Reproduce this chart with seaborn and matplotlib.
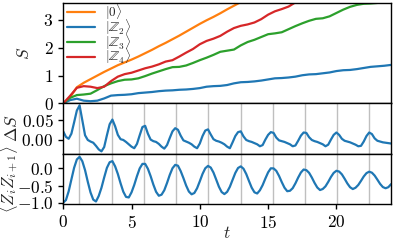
import matplotlib
matplotlib.use("Agg")
import matplotlib.pyplot as plt
import numpy as np
import pandas as pd
import seaborn as sns

# entanglement entropy S(t), sampled every 0.5
t_S = [0.0, 0.5, 1.0, 1.5, 2.0, 2.5, 3.0, 3.5, 4.0, 4.5, 5.0, 5.5, 6.0, 6.5, 7.0, 7.5,
       8.0, 8.5, 9.0, 9.5, 10.0, 10.5, 11.0, 11.5, 12.0, 12.5, 13.0, 13.5, 14.0, 14.5,
       15.0, 15.5, 16.0, 16.5, 17.0, 17.5, 18.0, 18.5, 19.0, 19.5, 20.0, 20.5, 21.0,
       21.5, 22.0, 22.5, 23.0, 23.5, 24.0]
S_0 = [0.00, 0.22, 0.58, 0.74, 0.87, 1.00, 1.13, 1.25, 1.37, 1.47, 1.57, 1.68, 1.80,
       1.92, 2.05, 2.17, 2.30, 2.43, 2.57, 2.71, 2.85, 2.98, 3.10, 3.23, 3.37, 3.50,
       3.63, 3.76]
S_Z2 = [0.00, 0.12, 0.17, 0.10, 0.08, 0.10, 0.18, 0.28, 0.30, 0.31, 0.33, 0.37, 0.39,
        0.41, 0.44, 0.46, 0.47, 0.49, 0.50, 0.52, 0.55, 0.60, 0.62, 0.63, 0.66, 0.72,
        0.76, 0.77, 0.79, 0.82, 0.86, 0.90, 0.91, 0.93, 0.96, 1.01, 1.04, 1.05, 1.08,
        1.11, 1.16, 1.19, 1.20, 1.23, 1.27, 1.31, 1.33, 1.35, 1.38]
S_Z3 = [0.00, 0.20, 0.30, 0.32, 0.35, 0.48, 0.62, 0.72, 0.80, 0.85, 0.86, 0.90, 0.98,
        1.07, 1.15, 1.23, 1.30, 1.31, 1.36, 1.45, 1.55, 1.64, 1.74, 1.85, 1.89, 1.93,
        2.08, 2.20, 2.28, 2.38, 2.48, 2.51, 2.55, 2.66, 2.77, 2.87, 2.96, 3.03, 3.05,
        3.12, 3.24, 3.36, 3.46, 3.53, 3.57, 3.58, 3.60, 3.66, 3.72]
S_Z4 = [0.00, 0.27, 0.56, 0.62, 0.60, 0.55, 0.60, 0.80, 0.96, 1.05, 1.10, 1.18, 1.26,
        1.32, 1.40, 1.50, 1.55, 1.68, 1.82, 1.95, 2.12, 2.24, 2.32, 2.42, 2.57, 2.70,
        2.78, 2.83, 2.90, 3.02, 3.18, 3.30, 3.38, 3.47, 3.62, 3.72]

# Delta S and nearest-neighbour correlator, sampled every 0.2
t_fine = [round(0.2 * i, 1) for i in range(121)]
dS = [0.022, 0.008, 0.003, 0.016, 0.045, 0.075, 0.088, 0.050, 0.012, 0.000, -0.004,
      -0.007, -0.015, -0.024, -0.029, -0.018, 0.012, 0.040, 0.052, 0.035, 0.013,
      0.002, 0.000, -0.005, -0.011, -0.017, -0.021, -0.010, 0.012, 0.033, 0.036,
      0.016, 0.001, -0.003, -0.005, -0.010, -0.017, -0.022, -0.013, 0.005, 0.022,
      0.030, 0.026, 0.011, -0.001, -0.004, -0.007, -0.011, -0.017, -0.021, -0.009,
      0.010, 0.024, 0.027, 0.014, 0.002, -0.002, -0.004, -0.007, -0.011, -0.017,
      -0.021, -0.006, 0.010, 0.020, 0.022, 0.009, 0.000, -0.003, -0.005, -0.008,
      -0.011, -0.016, -0.013, 0.001, 0.013, 0.020, 0.018, 0.006, -0.001, -0.003,
      -0.005, -0.008, -0.011, -0.016, -0.014, -0.002, 0.011, 0.019, 0.018, 0.007,
      0.000, -0.003, -0.005, -0.008, -0.011, -0.016, -0.012, 0.001, 0.013, 0.019,
      0.013, 0.003, -0.002, -0.004, -0.006, -0.009, -0.012, -0.016, -0.015, -0.004,
      0.010, 0.019, 0.015, 0.004, -0.002, -0.004, -0.006, -0.007, -0.008, -0.009]
zz = [-1.000, -0.926, -0.670, -0.322, 0.020, 0.263, 0.339, 0.210, -0.051, -0.391,
      -0.702, -0.913, -0.967, -0.806, -0.567, -0.264, 0.017, 0.181, 0.213, 0.061,
      -0.162, -0.435, -0.681, -0.833, -0.849, -0.701, -0.483, -0.226, 0.001, 0.132,
      0.133, -0.011, -0.226, -0.473, -0.684, -0.799, -0.768, -0.638, -0.426, -0.190,
      0.005, 0.104, 0.080, -0.078, -0.282, -0.501, -0.676, -0.757, -0.719, -0.581,
      -0.376, -0.161, 0.004, 0.074, 0.025, -0.120, -0.326, -0.536, -0.691, -0.750,
      -0.686, -0.537, -0.333, -0.131, 0.013, 0.060, -0.009, -0.164, -0.368, -0.564,
      -0.698, -0.733, -0.639, -0.488, -0.295, -0.115, 0.003, 0.001, -0.072, -0.219,
      -0.400, -0.564, -0.666, -0.654, -0.578, -0.436, -0.268, -0.120, -0.032, -0.050,
      -0.128, -0.265, -0.423, -0.558, -0.632, -0.602, -0.524, -0.395, -0.250, -0.131,
      -0.069, -0.092, -0.173, -0.301, -0.439, -0.550, -0.603, -0.565, -0.484, -0.364,
      -0.236, -0.138, -0.095, -0.125, -0.209, -0.329, -0.453, -0.545, -0.580, -0.549,
      -0.460]

# times of the correlator maxima (grey guide lines)
peak_times = [1.18, 3.54, 5.90, 8.26, 10.62, 12.98, 15.34, 17.70, 20.06, 22.42]

labels = [r'$|0\rangle$', r'$|\mathbb{Z}_2\rangle$', r'$|\mathbb{Z}_3\rangle$',
          r'$|\mathbb{Z}_4\rangle$']
colors = ['#ff7f0e', '#1f77b4', '#2ca02c', '#d62728']

frames = []
for lab, vals in zip(labels, [S_0, S_Z2, S_Z3, S_Z4]):
    frames.append(pd.DataFrame({'t': t_S[:len(vals)], 'S': vals, 'state': lab}))
df_S = pd.concat(frames)
df_fine = pd.DataFrame({'t': t_fine, 'dS': dS, 'zz': zz})

sns.set_style("ticks")
plt.rcParams['font.family'] = 'serif'
plt.rcParams['font.serif'] = ['cmr10', 'DejaVu Serif']
plt.rcParams['mathtext.fontset'] = 'cm'
plt.rcParams['axes.formatter.use_mathtext'] = True
plt.rcParams['font.size'] = 12.5
plt.rcParams['axes.edgecolor'] = 'black'
plt.rcParams['axes.linewidth'] = 1.0
plt.rcParams['xtick.color'] = 'black'
plt.rcParams['ytick.color'] = 'black'

fig, axes = plt.subplots(3, 1, figsize=(3.95, 2.44), dpi=100, sharex=True,
                         gridspec_kw={'height_ratios': [2, 1, 1]})
fig.subplots_adjust(left=0.16, right=0.99, top=0.988, bottom=0.164, hspace=0)
ax1, ax2, ax3 = axes

sns.lineplot(data=df_S, x='t', y='S', hue='state', hue_order=labels,
             palette=dict(zip(labels, colors)), lw=1.6, ax=ax1)
ax1.set_ylim(0, 3.6)
ax1.set_yticks([0, 1, 2, 3])
ax1.set_ylabel(r'$S$')
ax1.yaxis.set_label_coords(-0.095, 0.5)
ax1.legend(loc='upper left', bbox_to_anchor=(0.012, 1.01), frameon=False,
           fontsize=9.5, handlelength=2.1, labelspacing=-0.38, borderpad=0,
           borderaxespad=0, handletextpad=0.8)

for tp in peak_times:
    ax2.axvline(tp, color='gray', alpha=0.5, lw=1.0, zorder=0)
    ax3.axvline(tp, color='gray', alpha=0.5, lw=1.0, zorder=0)

sns.lineplot(data=df_fine, x='t', y='dS', color='#1f77b4', lw=1.6, ax=ax2)
ax2.set_ylim(-0.035, 0.093)
ax2.set_yticks([0.0, 0.05])
ax2.yaxis.set_major_formatter(matplotlib.ticker.FormatStrFormatter(r'$%.2f$'))
ax2.set_ylabel(r'$\Delta S$')
ax2.yaxis.set_label_coords(-0.132, 0.5)

sns.lineplot(data=df_fine, x='t', y='zz', color='#1f77b4', lw=1.6, ax=ax3)
ax3.set_ylim(-1.04, 0.43)
ax3.set_yticks([-1.0, -0.5, 0.0])
ax3.set_ylabel(r'$\langle Z_i Z_{i+1}\rangle$', fontsize=12)
ax3.yaxis.set_label_coords(-0.133, 0.5)
ax3.set_xlabel(r'$t$', labelpad=-4)
ax3.set_xlim(0, 24)
ax3.set_xticks([0, 5, 10, 15, 20])

for ax in (ax1, ax2):
    ax.tick_params(axis='x', bottom=False)
for ax in axes:
    ax.tick_params(axis='both', direction='out', length=3.5, width=1.0, pad=3.5)

fig.savefig('out.png', dpi=100)
